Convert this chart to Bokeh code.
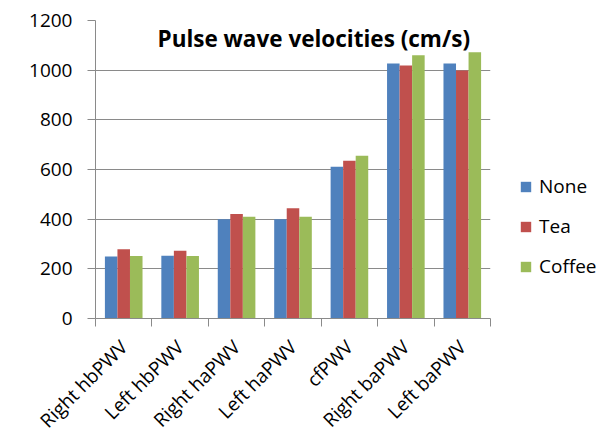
import math
from bokeh.plotting import figure
from bokeh.models import FixedTicker, Legend, LegendItem, Label, ColumnDataSource, Range1d
from bokeh.embed import file_html
from bokeh.resources import INLINE
from bokeh.transform import dodge

categories = ["Right hbPWV", "Left hbPWV", "Right haPWV", "Left haPWV",
              "cfPWV", "Right baPWV", "Left baPWV"]
none_vals = [250, 253, 400, 400, 611, 1027, 1027]
tea_vals = [279, 273, 421, 444, 635, 1019, 999]
coffee_vals = [252, 252, 410, 410, 655, 1060, 1072]
series_names = ["None", "Tea", "Coffee"]
series_colors = ["#4F81BD", "#C0504D", "#9BBB59"]
y_ticks = [0, 200, 400, 600, 800, 1000, 1200]
title_text = "Pulse wave velocities (cm/s)"

FONT = "Open Sans"
GRAY = "#8a8a8a"

n = len(categories)
centers = [i + 0.5 for i in range(n)]
boundaries = [float(i) for i in range(n + 1)]
source = ColumnDataSource(dict(x=centers, none=none_vals, tea=tea_vals, coffee=coffee_vals))

p = figure(frame_width=395, frame_height=298,
           x_range=Range1d(0, n), y_range=Range1d(y_ticks[0], y_ticks[-1]),
           output_backend="svg", toolbar_location=None,
           min_border_left=95, min_border_right=119, min_border_top=20, min_border_bottom=118)
p.outline_line_color = None
p.background_fill_color = "white"

bar_w = 1 / 4.5
renderers = []
for k, field in enumerate(["none", "tea", "coffee"]):
    r = p.vbar(x=dodge("x", (k - 1) * bar_w), top=field, width=bar_w, source=source,
               fill_color=series_colors[k], line_color=None)
    renderers.append(r)

# grid
p.xgrid.visible = False
p.ygrid.grid_line_color = GRAY
p.ygrid.grid_line_width = 1

# y axis
ya = p.yaxis[0]
ya.ticker = FixedTicker(ticks=y_ticks)
ya.axis_line_color = GRAY
ya.major_tick_line_color = GRAY
ya.major_tick_out = 8
ya.major_tick_in = 0
ya.minor_tick_line_color = None
ya.major_label_text_font = FONT
ya.major_label_text_font_size = "19px"
ya.major_label_text_color = "black"
ya.major_label_standoff = 15

# x axis
xa = p.xaxis[0]
xa.ticker = FixedTicker(ticks=centers, minor_ticks=boundaries)
xa.major_label_overrides = {c: lab for c, lab in zip(centers, categories)}
xa.axis_line_color = GRAY
xa.major_tick_out = 0
xa.major_tick_in = 0
xa.minor_tick_out = 8
xa.minor_tick_in = 0
xa.minor_tick_line_color = GRAY
xa.major_label_orientation = math.pi / 4
xa.major_label_text_font = FONT
xa.major_label_text_font_size = "19px"
xa.major_label_text_color = "black"
xa.major_label_standoff = 17

# title inside plot
p.add_layout(Label(x=62, y=280, x_units="screen", y_units="screen", text=title_text,
                   text_font=FONT, text_font_style="bold", text_font_size="22.5px",
                   text_color="black", text_baseline="alphabetic"))

legend = Legend(items=[LegendItem(label=nm, renderers=[r]) for nm, r in zip(series_names, renderers)],
                location=(29, 39), orientation="vertical",
                glyph_width=13, glyph_height=13, label_height=20, spacing=14,
                label_standoff=7, padding=0, margin=0, border_line_color=None,
                background_fill_alpha=0,
                label_text_font=FONT, label_text_font_size="19px", label_text_color="black")
p.add_layout(legend, "right")

open("out.html", "w").write(file_html(p, INLINE))
